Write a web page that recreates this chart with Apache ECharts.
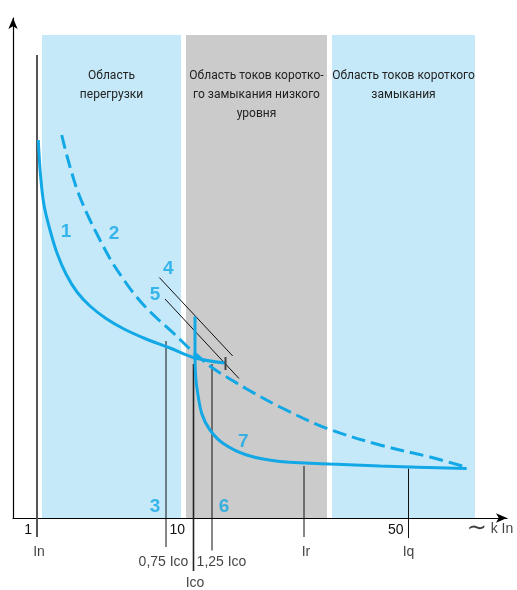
<!DOCTYPE html>
<html>
<head>
<meta charset="utf-8">
<script src="https://cdn.jsdelivr.net/npm/echarts@6/dist/echarts.min.js"></script>
<style>
  html, body { margin: 0; padding: 0; background: #fff; }
  #chart { width: 517px; height: 590px; }
</style>
</head>
<body>
<div id="chart"></div>
<script>
// schematic units: x = multiples of In (not to scale), y = tripping time (arbitrary)
const tickPos = [4.8, 35.4, 79.1];
const tickText = ['1', '10', '50'];

const bandNames = [
  'Область\nперегрузки',
  'Область токов коротко-\nго замыкания низкого\nуровня',
  'Область токов короткого\nзамыкания'
];
const bandRanges = [[5.8, 33.6], [34.6, 62.8], [63.8, 92.4]];
const bandTop = 96.6;

// curve 1 – thermal release
const curve1 = [
  [5.06, 75.6], [5.5, 68.6], [6.2, 62.6], [7.4, 57.6], [8.8, 53], [10.6, 48.8],
  [12.8, 45.2], [15.4, 42.4], [18.6, 39.9], [22.2, 37.8], [26.4, 35.9], [31.4, 34],
  [36.4, 32], [42.4, 31]
];
// curve 2 – cable withstand (dashed)
const curve2 = [
  [9.74, 76.6], [10.8, 72.4], [12.06, 68], [13.06, 65], [15.06, 60.3], [17.4, 55.6],
  [19.74, 51.3], [22.4, 47.3], [24.4, 44.6], [26.4, 42.3], [28.74, 40], [32.06, 37],
  [35.06, 34.1], [36.74, 32.6], [40.06, 29.9], [44.06, 27.4], [46.74, 25.8], [53.4, 22.2],
  [62.74, 17.94], [73.4, 14.6], [83.4, 12.2], [90.74, 10.14]
];
// curve 7 – magnetic release
const curve7 = [
  [36.4, 40.3], [36.4, 36], [36.4, 32], [36.5, 29], [36.74, 26.3], [37.74, 20.9],
  [39.4, 17.6], [42.06, 14.9], [46.74, 12.6], [53.4, 11.3], [63.4, 10.8], [73.4, 10.4],
  [90.74, 9.9]
];
const line4 = [[29.26, 48.1], [43.94, 32.4]];
const line5 = [[30.4, 43.8], [45.2, 27.9]];
const curve1End = [[42.5, 32.2], [42.5, 29.6]];

// current markers
const currentNames = ['In', '0,75 Ico', 'Ico', '1,25 Ico', 'Ir', 'Iq'];
const currentX = [4.8, 30.6, 36.1, 39.8, 58.2, 79.1];
const currentTop = [92.6, 35.4, 30.8, 30.8, 10.4, 9.9];
const currentBottom = [-3.8, -5.8, -10.6, -6.5, -3.8, -4];
const currentLabelPos = [[5.2, -6.8], [30.1, -8.8], [36.4, -13], [41.7, -8.8], [58.6, -6.8], [79.1, -6.8]];
const currentWidth = [2, 1, 1.6, 1, 1, 1];
const currentColor = ['#555', '#111', '#222', '#111', '#111', '#111'];

// curve numbers
const numberText = ['1', '2', '3', '4', '5', '6', '7'];
const numberPos = [[10.6, 57.3], [20.2, 56.9], [28.4, 2.2], [31.06, 49.9], [28.4, 44.6], [42.2, 2.2], [46.06, 15.3]];

const BLUE = '#12a8e6';
const bandColors = ['#c6e9f9', '#cbcbcb', '#c6e9f9'];

const chart = echarts.init(document.getElementById('chart'));

const series = [];

series.push({
  type: 'line',
  data: [],
  silent: true,
  markArea: {
    silent: true,
    label: {
      show: true,
      position: 'insideTop',
      distance: 31,
      color: '#222',
      fontSize: 12,
      lineHeight: 19,
      fontFamily: 'Roboto, "Liberation Sans", sans-serif'
    },
    data: bandRanges.map((r, i) => [
      { name: bandNames[i], xAxis: r[0], yAxis: 0, itemStyle: { color: bandColors[i] } },
      { xAxis: r[1], yAxis: bandTop }
    ])
  }
});

currentX.forEach((x, i) => {
  series.push({
    type: 'line',
    silent: true,
    clip: false,
    showSymbol: false,
    data: [[x, currentTop[i]], [x, currentBottom[i]]],
    lineStyle: { color: currentColor[i], width: currentWidth[i] },
    z: 3
  });
});

[line4, line5].forEach((l) => {
  series.push({
    type: 'line',
    silent: true,
    showSymbol: false,
    data: l,
    lineStyle: { color: '#111', width: 1 },
    z: 3
  });
});

series.push({
  type: 'line',
  silent: true,
  showSymbol: false,
  data: curve1,
  smooth: 0.35,
  lineStyle: { color: BLUE, width: 3 },
  z: 4
});
series.push({
  type: 'line',
  silent: true,
  showSymbol: false,
  data: curve2,
  smooth: 0.35,
  lineStyle: { color: BLUE, width: 3, type: [14, 6] },
  z: 4
});
series.push({
  type: 'line',
  silent: true,
  showSymbol: false,
  data: curve7,
  smooth: 0.3,
  lineStyle: { color: BLUE, width: 3 },
  z: 4
});
series.push({
  type: 'line',
  silent: true,
  showSymbol: false,
  data: curve1End,
  lineStyle: { color: '#444', width: 2 },
  z: 5
});

series.push({
  type: 'scatter',
  silent: true,
  symbolSize: 0,
  clip: false,
  data: numberText.map((t, i) => ({ name: t, value: numberPos[i] })),
  label: {
    show: true,
    position: 'inside',
    formatter: '{b}',
    color: BLUE,
    fontSize: 19,
    fontWeight: 'bold',
    fontFamily: '"Liberation Sans", Arial, sans-serif'
  },
  z: 6
});

series.push({
  type: 'scatter',
  silent: true,
  symbolSize: 0,
  clip: false,
  data: currentNames.map((t, i) => ({ name: t, value: currentLabelPos[i] })),
  label: {
    show: true,
    position: 'inside',
    formatter: '{b}',
    color: '#111',
    fontSize: 14,
    fontFamily: '"Liberation Sans", Arial, sans-serif'
  },
  z: 6
});

// axis unit "~ k In"
series.push({
  type: 'scatter',
  silent: true,
  symbolSize: 0,
  clip: false,
  data: [{ name: 'unit', value: [95.4, -2.2] }],
  label: {
    show: true,
    position: 'inside',
    formatter: '{t|∼} k In',
    color: '#111',
    fontSize: 14,
    fontFamily: '"Liberation Sans", Arial, sans-serif',
    rich: {
      t: { fontSize: 24, fontFamily: '"DejaVu Sans", sans-serif', color: '#111' }
    }
  },
  z: 6
});

chart.setOption({
  animation: false,
  grid: { left: 13, right: 10, top: 18, bottom: 72 },
  xAxis: {
    type: 'value',
    min: 0,
    max: 98.8,
    axisLine: {
      show: true,
      symbol: ['none', 'arrow'],
      symbolSize: [7, 11],
      lineStyle: { color: '#000', width: 1.2 }
    },
    axisTick: { show: false },
    splitLine: { show: false },
    axisLabel: {
      customValues: tickPos,
      formatter: (v) => {
        const k = tickPos.findIndex((p) => Math.abs(p - v) < 1e-6);
        return k >= 0 ? tickText[k] : '';
      },
      align: 'right',
      padding: [0, 5, 0, 0],
      margin: 5,
      fontSize: 14,
      color: '#111',
      fontFamily: '"Liberation Sans", Arial, sans-serif'
    }
  },
  yAxis: {
    type: 'value',
    min: 0,
    max: 100,
    axisLine: {
      show: true,
      symbol: ['none', 'arrow'],
      symbolSize: [7, 11],
      lineStyle: { color: '#000', width: 1.2 }
    },
    axisTick: { show: false },
    axisLabel: { show: false },
    splitLine: { show: false }
  },
  series: series
});
</script>
</body>
</html>
